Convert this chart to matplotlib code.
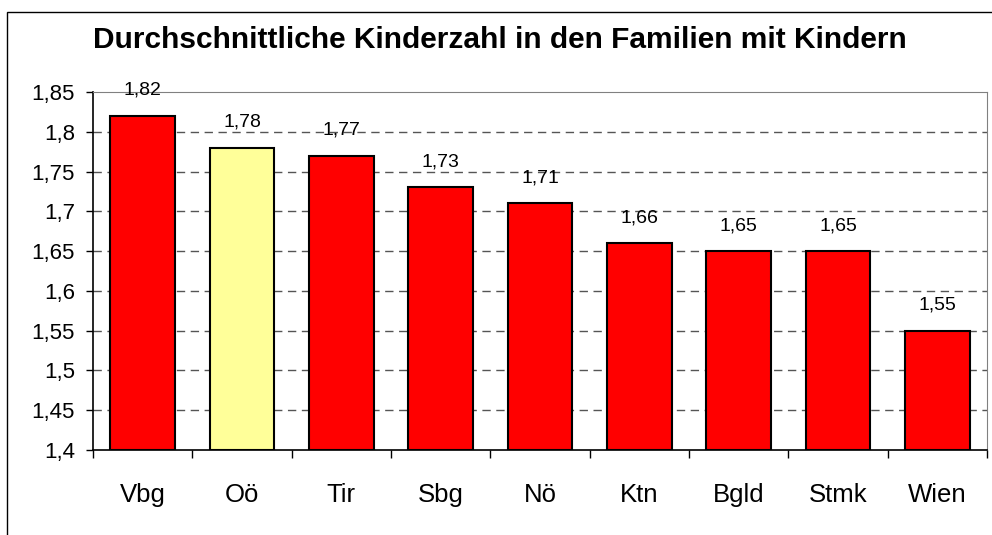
import matplotlib
matplotlib.use("Agg")
import matplotlib.pyplot as plt
from matplotlib.patches import Rectangle

regions = ["Vbg", "Oö", "Tir", "Sbg", "Nö", "Ktn", "Bgld", "Stmk", "Wien"]
kinder = [1.82, 1.78, 1.77, 1.73, 1.71, 1.66, 1.65, 1.65, 1.55]
highlight = "Oö"
y_ticks = [1.4, 1.45, 1.5, 1.55, 1.6, 1.65, 1.7, 1.75, 1.8, 1.85]

plt.rcParams['font.family'] = ['Liberation Sans', 'DejaVu Sans']

fig = plt.figure(figsize=(9.92, 5.35), dpi=100)
ax = fig.add_axes([93 / 992, 1 - 450 / 535, 894 / 992, 358 / 535])

# outer chart frame
fig.patches.append(Rectangle((7 / 992, -0.2), 1.2, 1.2 - 12 / 535,
                             transform=fig.transFigure, fill=False,
                             edgecolor="black", linewidth=1.0))

colors = ["#ffff99" if r == highlight else "#ff0000" for r in regions]
x = list(range(len(regions)))
ax.bar(x, [v - 1.4 for v in kinder], bottom=1.4, width=0.65, color=colors,
       edgecolor="black", linewidth=1.5, zorder=3)

for xi, v in zip(x, kinder):
    ax.annotate(f"{v:.2f}".replace(".", ","), (xi, v), xytext=(0, 21),
                textcoords="offset pixels", ha="center", va="baseline",
                fontsize=14, zorder=4)

ax.set_ylim(1.4, 1.85)
ax.set_xlim(-0.5, len(regions) - 0.5)
ax.set_yticks(y_ticks)
ax.set_yticklabels([f"{t:g}".replace(".", ",") for t in y_ticks])
ax.tick_params(axis="y", direction="out", length=5, width=1, pad=8, labelsize=16)

ax.set_xticks([i - 0.5 for i in range(len(regions) + 1)])
ax.set_xticklabels([])
ax.set_xticks(x, minor=True)
ax.set_xticklabels(regions, minor=True)
ax.tick_params(axis="x", which="major", direction="out", length=6, width=1)
ax.tick_params(axis="x", which="minor", length=0, pad=24, labelsize=18.5)

for t in y_ticks[1:-1]:
    ax.axhline(t, color="#555555", linestyle=(0, (6, 4)), linewidth=1, zorder=1)

ax.spines["left"].set_color("black")
ax.spines["bottom"].set_color("black")
ax.spines["left"].set_linewidth(1.2)
ax.spines["bottom"].set_linewidth(1.2)
ax.spines["top"].set_color("#808080")
ax.spines["right"].set_color("#808080")

fig.text(500 / 992, 1 - 40 / 535, "Durchschnittliche Kinderzahl in den Familien mit Kindern",
         ha="center", va="center", fontsize=21.5, fontweight="bold")

fig.savefig("out.png", dpi=100)
